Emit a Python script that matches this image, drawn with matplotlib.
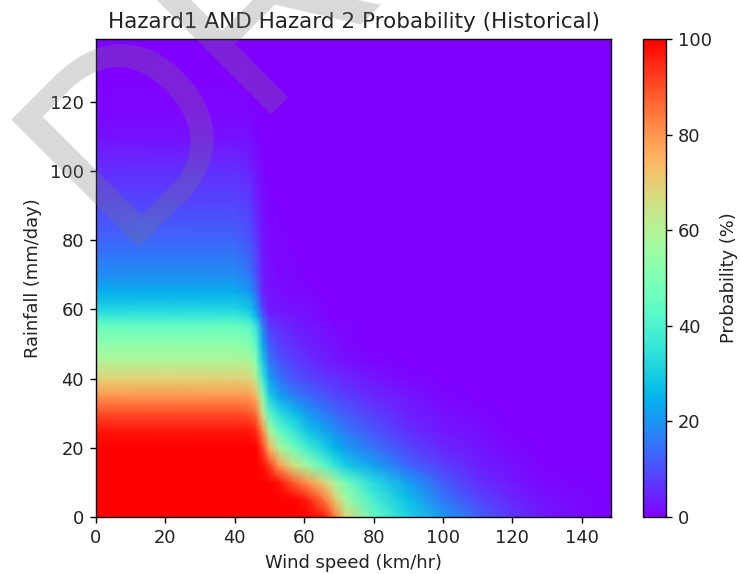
import matplotlib
matplotlib.use("Agg")
import matplotlib.pyplot as plt
import numpy as np

wind = [0, 40, 44, 46, 48, 50, 53, 57, 61, 66, 69, 72, 80, 90, 100, 110, 120, 130, 149]
rain = [0, 5, 10, 15, 20, 25, 30, 35, 40, 45, 50, 55, 58, 60, 65, 70, 80, 90, 100, 110, 120, 138]

row_r0 =   [100, 100, 100, 100, 100, 100, 100, 100, 100, 96, 84, 68, 45, 31, 21, 13, 7, 3, 0]
row_r5 =   [100, 100, 100, 100, 100, 100, 100, 100, 96, 84, 70, 57, 39, 27, 16, 9, 5, 2, 0]
row_r10 =  [100, 100, 100, 100, 100, 100, 97, 88, 80, 68, 58, 48, 33, 22, 12, 6, 3, 1, 0]
row_r15 =  [100, 100, 100, 100, 98, 92, 78, 65, 55, 42, 35, 29, 22, 13, 8, 4, 2, 0, 0]
row_r20 =  [100, 100, 100, 100, 92, 75, 58, 48, 38, 30, 25, 21, 15, 9, 5, 3, 1, 0, 0]
row_r25 =  [97, 97, 97, 95, 82, 58, 44, 36, 28, 22, 19, 16, 11, 6, 3, 2, 0, 0, 0]
row_r30 =  [90, 90, 89, 86, 65, 42, 33, 27, 21, 16, 14, 12, 8, 4, 2, 1, 0, 0, 0]
row_r35 =  [80, 80, 79, 75, 52, 30, 22, 17, 14, 11, 9, 8, 5, 3, 1, 0, 0, 0, 0]
row_r40 =  [69, 69, 68, 62, 38, 22, 15, 11, 9, 7, 6, 5, 3, 1, 0, 0, 0, 0, 0]
row_r45 =  [60, 60, 59, 52, 30, 16, 11, 8, 6, 4, 3, 2, 1, 0, 0, 0, 0, 0, 0]
row_r50 =  [53, 53, 51, 44, 24, 12, 8, 6, 4, 3, 2, 1, 0, 0, 0, 0, 0, 0, 0]
row_r55 =  [46, 46, 44, 37, 18, 8, 6, 4, 3, 2, 1, 1, 0, 0, 0, 0, 0, 0, 0]
row_r58 =  [37, 37, 34, 27, 12, 5, 4, 3, 2, 1, 0, 0, 0, 0, 0, 0, 0, 0, 0]
row_r60 =  [32, 32, 29, 22, 9, 3, 3, 2, 2, 1, 0, 0, 0, 0, 0, 0, 0, 0, 0]
row_r65 =  [24, 24, 21, 15, 5, 2, 2, 1, 1, 0, 0, 0, 0, 0, 0, 0, 0, 0, 0]
row_r70 =  [19, 19, 16, 11, 4, 2, 1, 1, 0, 0, 0, 0, 0, 0, 0, 0, 0, 0, 0]
row_r80 =  [13, 13, 11, 8, 3, 1, 1, 0, 0, 0, 0, 0, 0, 0, 0, 0, 0, 0, 0]
row_r90 =  [9, 9, 8, 5, 2, 1, 0, 0, 0, 0, 0, 0, 0, 0, 0, 0, 0, 0, 0]
row_r100 = [6, 6, 5, 3, 1, 0, 0, 0, 0, 0, 0, 0, 0, 0, 0, 0, 0, 0, 0]
row_r110 = [2, 2, 2, 1, 0, 0, 0, 0, 0, 0, 0, 0, 0, 0, 0, 0, 0, 0, 0]
row_r120 = [0.5, 0.5, 0.5, 0, 0, 0, 0, 0, 0, 0, 0, 0, 0, 0, 0, 0, 0, 0, 0]
row_r138 = [0, 0, 0, 0, 0, 0, 0, 0, 0, 0, 0, 0, 0, 0, 0, 0, 0, 0, 0]

probability = np.array([row_r0, row_r5, row_r10, row_r15, row_r20, row_r25, row_r30,
                        row_r35, row_r40, row_r45, row_r50, row_r55, row_r58, row_r60,
                        row_r65, row_r70, row_r80, row_r90, row_r100, row_r110,
                        row_r120, row_r138], dtype=float)

W, H = 740, 574
fig = plt.figure(figsize=(W / 100, H / 100), dpi=100)
FS = 12.9
TC = "#222222"
ax = fig.add_axes([96 / W, 1 - 517 / H, 515 / W, 478 / H])
mesh = ax.pcolormesh(wind, rain, probability, cmap="rainbow", vmin=0, vmax=100,
                     shading="gouraud", rasterized=True)
ax.set_xlim(0, 148.4)
ax.set_ylim(0, 138.2)
ax.set_xticks(range(0, 141, 20))
ax.set_yticks(range(0, 121, 20))
ax.tick_params(labelsize=FS, length=4.5, width=1, labelcolor=TC, pad=4)
for s in ax.spines.values():
    s.set_linewidth(1)
ax.set_xlabel("Wind speed (km/hr)", fontsize=FS, labelpad=5, color=TC)
ax.set_ylabel("Rainfall (mm/day)", fontsize=FS, labelpad=5.5, color=TC)
ax.set_title("Hazard1 AND Hazard 2 Probability (Historical)", fontsize=15.5, pad=8, color=TC)

cax = fig.add_axes([643 / W, 1 - 517 / H, 23 / W, 478 / H])
cb = fig.colorbar(mesh, cax=cax)
cb.set_ticks(range(0, 101, 20))
cb.ax.tick_params(labelsize=FS, length=4.5, width=1, labelcolor=TC, pad=4)
cb.outline.set_linewidth(1)
cb.set_label("Probability (%)", fontsize=FS, labelpad=6, color=TC)

fig.text(117 / W, 1 - 247 / H, "DRAFT", family="Liberation Sans", fontsize=188,
         rotation=45, rotation_mode="anchor", ha="left", va="baseline",
         color=(120 / 255, 120 / 255, 120 / 255), alpha=0.28, zorder=20)

fig.savefig("out.png", dpi=100)
